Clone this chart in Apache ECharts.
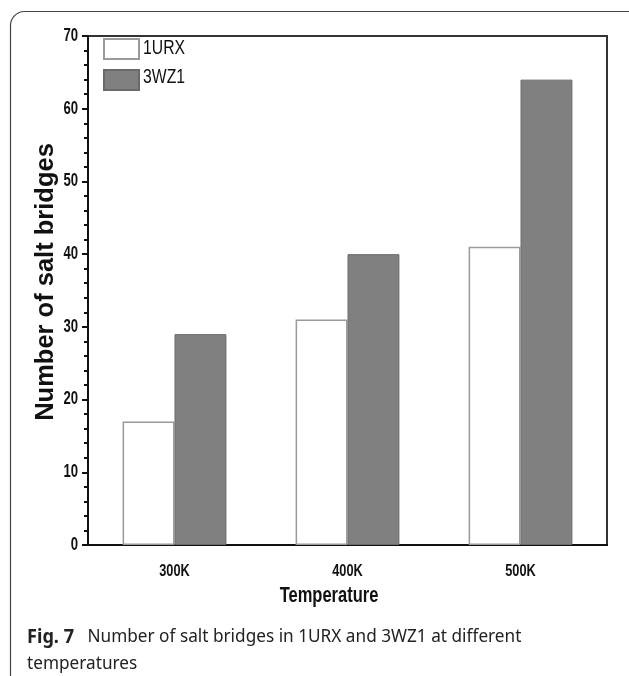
<!DOCTYPE html>
<html>
<head>
<meta charset="utf-8">
<script src="https://cdn.jsdelivr.net/npm/echarts@6/dist/echarts.min.js"></script>
<style>
  html, body { margin: 0; padding: 0; background: #fff; }
  #chart { width: 629px; height: 676px; }
</style>
</head>
<body>
<div id="chart"></div>
<script>
// Salt bridge counts per temperature for the two proteins
const temperatures = ['300K', '400K', '500K'];
const seriesNames = ['1URX', '3WZ1'];
const urxCounts = [17, 31, 41];
const wzCounts = [29, 40, 64];
const yTickValues = [0, 10, 20, 30, 40, 50, 60, 70];

const sans = "'Liberation Sans', Arial, sans-serif";
const captionFont = "'Noto Sans', 'Open Sans', sans-serif";
const NARROW = 0.75; // horizontal squeeze that gives a condensed face

const chart = echarts.init(document.getElementById('chart'), null, { renderer: 'canvas' });

chart.setOption({
  animation: false,
  backgroundColor: '#fff',
  grid: {
    left: 88, right: 22, top: 36, bottom: 131,
    show: true, borderColor: '#333', borderWidth: 2, backgroundColor: 'transparent'
  },
  legend: {
    orient: 'vertical', left: 103, top: 38, padding: 0,
    itemWidth: 35, itemHeight: 20, itemGap: 9,
    icon: 'rect',
    formatter: () => '',
    data: seriesNames
  },
  xAxis: [
    {
      type: 'category', data: temperatures,
      axisLine: { lineStyle: { color: '#111', width: 2 } },
      axisTick: { alignWithLabel: true, length: 11, lineStyle: { color: '#111', width: 2 } },
      axisLabel: { show: false }
    },
    {
      type: 'category', data: temperatures, position: 'bottom',
      axisLine: { show: false },
      axisTick: { length: 6, lineStyle: { color: '#111', width: 2 } },
      axisLabel: { show: false }
    }
  ],
  yAxis: {
    type: 'value', min: yTickValues[0], max: yTickValues[yTickValues.length - 1],
    interval: yTickValues[1] - yTickValues[0],
    splitLine: { show: false },
    axisLine: { show: true, lineStyle: { color: '#111', width: 2 } },
    axisTick: { show: true, length: 6, lineStyle: { color: '#111', width: 2 } },
    minorTick: { show: true, splitNumber: 5, length: 4, lineStyle: { color: '#111', width: 2 } },
    axisLabel: { show: false }
  },
  series: [
    {
      name: seriesNames[0], type: 'bar', data: urxCounts,
      barGap: '0%', barCategoryGap: '40%',
      itemStyle: { color: '#fff', borderColor: '#9a9a9a', borderWidth: 1.5 }
    },
    {
      name: seriesNames[1], type: 'bar', data: wzCounts,
      barGap: '0%', barCategoryGap: '40%',
      itemStyle: { color: '#808080', borderColor: '#6a6a6a', borderWidth: 1 }
    }
  ]
});

// Condensed tick and legend labels, placed with the chart's own coordinate conversion
function narrowText(text, x, y, size, align, weight) {
  return {
    type: 'text', x: x, y: y, scaleX: NARROW, silent: true,
    style: {
      text: text, fontFamily: sans, fontSize: size, fontWeight: weight || 'normal',
      fill: '#111', align: align, verticalAlign: 'middle'
    }
  };
}

const graphics = [
  {
    type: 'rect', silent: true,
    shape: { x: 10.5, y: 11.5, width: 640, height: 720, r: 14 },
    style: { fill: 'none', stroke: '#444', lineWidth: 1.2 }
  }
];

yTickValues.forEach(v => {
  const py = chart.convertToPixel({ yAxisIndex: 0 }, v);
  graphics.push(narrowText(String(v), 78, py, 17.5, 'right', 600));
});
temperatures.forEach(t => {
  const px = chart.convertToPixel({ xAxisIndex: 0 }, t);
  graphics.push(narrowText(t, px, 571, 17, 'center', 600));
});
seriesNames.forEach((name, i) => {
  graphics.push(narrowText(name, 143, 48 + i * 29, 21, 'left'));
});

graphics.push(
  {
    type: 'text', x: 46, y: 282, rotation: Math.PI / 2, silent: true,
    style: {
      text: 'Number of salt bridges', fontFamily: sans,
      fontWeight: 'bold', fontSize: 25.5, fill: '#111', align: 'center', verticalAlign: 'middle'
    }
  },
  narrowText('Temperature', 329, 596, 22, 'center', 'bold'),
  {
    type: 'text', x: 27, y: 637, scaleX: 0.93, silent: true,
    style: {
      text: '{b|Fig. 7}   Number of salt bridges in 1URX and 3WZ1 at different',
      fontFamily: captionFont, fontSize: 18.5, fill: '#222', verticalAlign: 'middle',
      rich: {
        b: { fontFamily: captionFont, fontSize: 19.5, fontWeight: 'bold', fill: '#222' }
      }
    }
  },
  {
    type: 'text', x: 27, y: 664, scaleX: 0.93, silent: true,
    style: {
      text: 'temperatures', fontFamily: captionFont,
      fontSize: 18.5, fill: '#222', verticalAlign: 'middle'
    }
  }
);

chart.setOption({ graphic: graphics });
</script>
</body>
</html>
